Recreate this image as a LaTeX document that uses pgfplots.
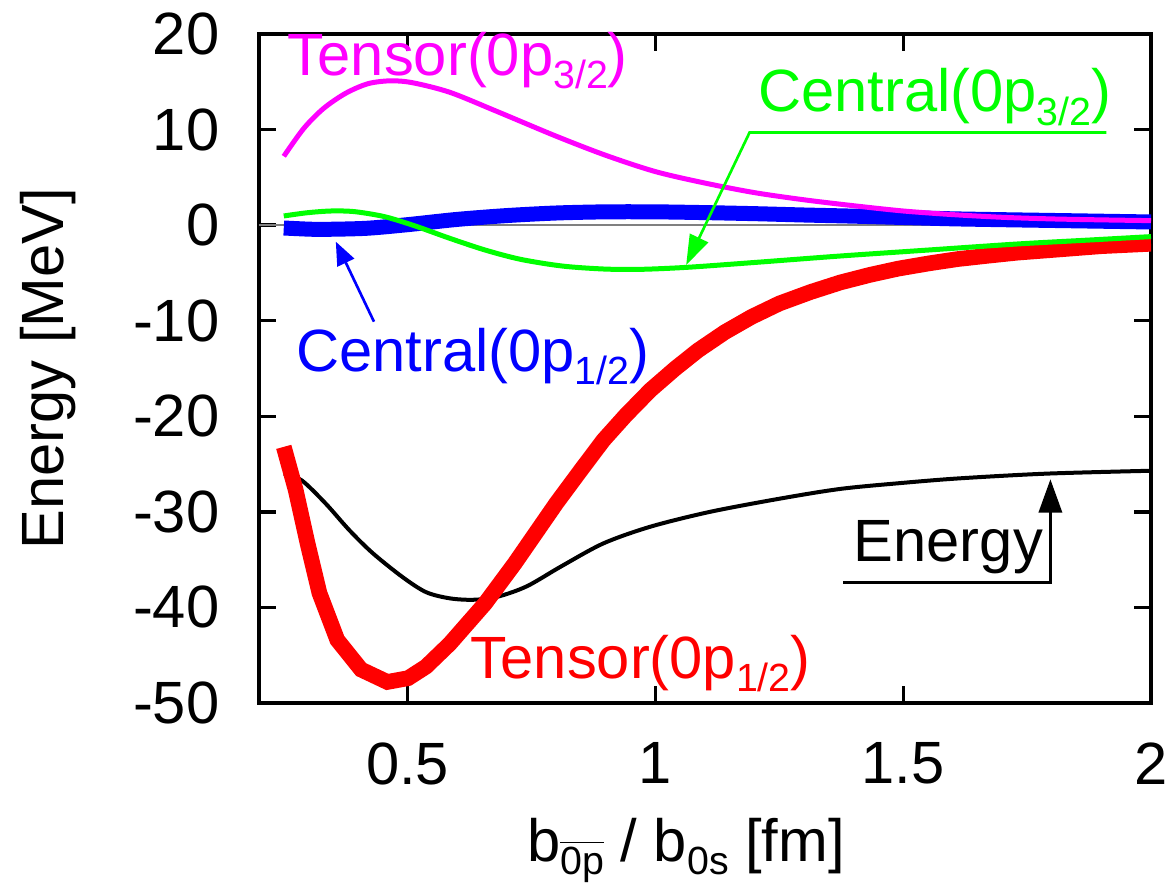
\documentclass[border=0pt]{standalone}
\usepackage{fontspec}
\setmainfont{Liberation Sans}
\usepackage{pgfplots}
\pgfplotsset{compat=1.18}
\usetikzlibrary{arrows.meta}

% lowered, smaller text for the orbital subscripts
\newcommand\sub[1]{\raisebox{-4pt}{\fontsize{11.8}{12}\selectfont #1}}

\definecolor{gpMagenta}{RGB}{255,0,255}
\definecolor{gpGreen}{RGB}{0,255,0}
\definecolor{gpBlue}{RGB}{0,0,255}
\definecolor{gpRed}{RGB}{255,0,0}

\begin{document}
\fontsize{17.9}{20}\selectfont
\begin{tikzpicture}
\begin{axis}[
  scale only axis,
  width=267.6pt, height=200.7pt,
  xmin=0.2, xmax=2, ymin=-50, ymax=20,
  xtick={0.5,1,1.5,2}, xticklabels={0.5,1,1.5,2},
  ytick={-50,-40,-30,-20,-10,0,10,20},
  yticklabels={-50,-40,-30,-20,-10,0,10,20},
  axis line style={line width=1pt},
  major tick length=5.1pt,
  every tick/.style={black, line width=1pt},
  xticklabel style={inner sep=0pt, yshift=-11.7pt},
  yticklabel style={inner sep=0pt, xshift=-11.7pt},
  xlabel={b\sub{$\overline{\mbox{0p}}$} / b\sub{0s} [fm]},
  ylabel={Energy [MeV]},
  xlabel style={at={(axis description cs:0.4787,0)}, anchor=base, yshift=-47.4pt, inner sep=0pt},
  ylabel style={at={(axis description cs:-0.2366,0.5)}, anchor=center, inner sep=0pt},
  clip mode=individual,
]

% zero line
\addplot[gray, line width=0.6pt] coordinates {(0.2,0) (2,0)};

% Energy
\addplot[black, line width=1.2pt, smooth, tension=0.5] coordinates {
 (0.25,-26.0) (0.286,-26.7) (0.334,-29.1) (0.382,-31.9) (0.429,-34.3)
 (0.489,-36.8) (0.537,-38.4) (0.585,-39.05) (0.632,-39.2) (0.68,-38.9)
 (0.74,-37.8) (0.81,-35.7) (0.895,-33.3) (0.99,-31.55) (1.11,-30.0)
 (1.253,-28.6) (1.373,-27.6) (1.492,-27.0) (1.612,-26.5) (1.79,-26.0)
 (2.0,-25.7)};

% Tensor(0p1/2)
\addplot[gpRed, line width=4.7pt] coordinates {
 (0.25,-23.2) (0.274,-27.7) (0.298,-33.3) (0.322,-38.5) (0.358,-43.4)
 (0.406,-46.5) (0.459,-47.8) (0.501,-47.4) (0.537,-46.2) (0.585,-43.8)
 (0.656,-39.6) (0.716,-35.4) (0.8,-29.1) (0.85,-25.6) (0.895,-22.5)
 (0.94,-19.9) (0.99,-17.25) (1.04,-15.0) (1.086,-13.1) (1.14,-11.2)
 (1.194,-9.6) (1.25,-8.2) (1.313,-7.0) (1.373,-6.0) (1.433,-5.2)
 (1.49,-4.55) (1.552,-4.0) (1.61,-3.55) (1.671,-3.2) (1.73,-2.88)
 (1.8,-2.6) (1.9,-2.2) (2.0,-1.95)};

% Central(0p1/2)
\addplot[gpBlue, line width=4.5pt, smooth, tension=0.5] coordinates {
 (0.25,-0.3) (0.3,-0.42) (0.334,-0.44) (0.417,-0.33) (0.5,0.05)
 (0.6,0.6) (0.7,1.0) (0.8,1.27) (0.9,1.39) (1.0,1.39) (1.1,1.31)
 (1.2,1.2) (1.3,1.06) (1.4,0.94) (1.5,0.8) (1.6,0.66) (1.7,0.57)
 (1.8,0.49) (1.9,0.41) (2.0,0.33)};

% Tensor(0p3/2)
\addplot[gpMagenta, line width=1.5pt, smooth, tension=0.5] coordinates {
 (0.25,7.2) (0.29,10.1) (0.33,12.2) (0.375,13.8) (0.42,14.8) (0.465,15.1)
 (0.51,14.9) (0.585,13.9) (0.68,11.9) (0.8,9.3) (0.9,7.3) (1.0,5.6)
 (1.1,4.4) (1.2,3.4) (1.3,2.65) (1.4,2.03) (1.5,1.48) (1.6,1.1)
 (1.7,0.82) (1.8,0.65) (1.9,0.55) (2.0,0.47)};

% Central(0p3/2)
\addplot[gpGreen, line width=1.5pt, smooth, tension=0.5] coordinates {
 (0.25,0.96) (0.298,1.3) (0.346,1.48) (0.393,1.41) (0.453,0.89)
 (0.513,-0.05) (0.585,-1.38) (0.656,-2.6) (0.728,-3.58) (0.812,-4.28)
 (0.895,-4.59) (0.967,-4.63) (1.062,-4.42) (1.194,-3.93) (1.373,-3.23)
 (1.552,-2.6) (1.731,-1.97) (1.875,-1.56) (2.0,-1.2)};

% labels and pointers
\node[gpMagenta, anchor=base west, inner sep=0pt] at (axis cs:0.257,15.7) {Tensor(0p\sub{3/2})};
\node[gpGreen, anchor=base west, inner sep=0pt] at (axis cs:1.206,11.87) {Central(0p\sub{3/2})};
\node[gpBlue, anchor=base west, inner sep=0pt] at (axis cs:0.274,-15.33) {Central(0p\sub{1/2})};
\node[gpRed, anchor=base west, inner sep=0pt] at (axis cs:0.626,-47.4) {Tensor(0p\sub{1/2})};
\node[black, anchor=base west, inner sep=0pt] at (axis cs:1.399,-35.2) {Energy};

\draw[gpGreen, line width=0.8pt, -{Triangle[length=9pt, width=6pt]}]
  (axis cs:1.91,9.7) -- (axis cs:1.19,9.7) -- (axis cs:1.062,-4.17);
\draw[gpBlue, line width=0.8pt, -{Triangle[length=7pt, width=5.5pt]}]
  (axis cs:0.432,-10.1) -- (axis cs:0.355,-1.73);
\draw[black, line width=0.8pt, -{Triangle[length=10pt, width=7pt]}]
  (axis cs:1.379,-37.4) -- (axis cs:1.797,-37.4) -- (axis cs:1.797,-26.6);
\end{axis}
\pgfresetboundingbox
\path[use as bounding box]
  ([xshift=-77.7pt,yshift=-56.1pt]current axis.south west)
  rectangle ([xshift=7.5pt,yshift=10.2pt]current axis.north east);
\end{tikzpicture}
\end{document}
